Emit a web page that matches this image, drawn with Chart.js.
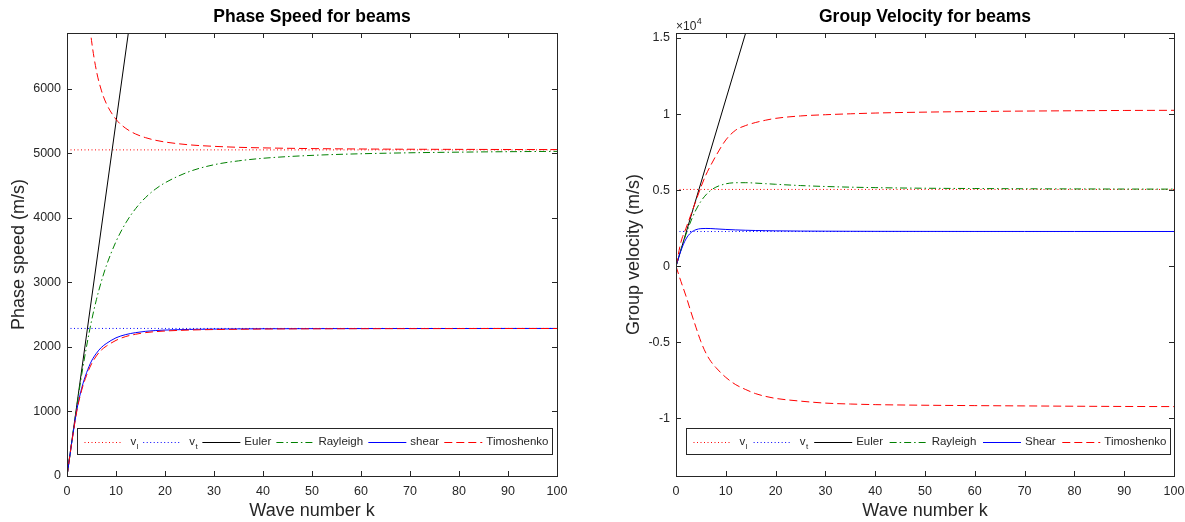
<!DOCTYPE html>
<html>
<head>
<meta charset="utf-8">
<script src="https://cdn.jsdelivr.net/npm/chart.js@4.4.1/dist/chart.umd.min.js"></script>
<style>
  html, body { margin: 0; padding: 0; background: #fff; }
  #wrap { position: relative; width: 1185px; height: 522px; }
  .panel { position: absolute; top: 0; height: 522px; }
</style>
</head>
<body>
<div id="wrap">
  <div class="panel" style="left:0;width:592px"><canvas id="phaseChart"></canvas></div>
  <div class="panel" style="left:592px;width:593px"><canvas id="groupChart"></canvas></div>
</div>
<script>
// wave numbers k
const kGrid  = [0, 1, 2, 3, 4, 5, 6, 7, 8, 10, 12, 14, 16, 18, 20, 25, 30, 35, 40, 50, 60, 70, 80, 90, 100];
const kUpper = [4, 4.5, 5, 6, 7, 8, 10, 12, 14, 16, 18, 20, 25, 30, 35, 40, 50, 60, 70, 80, 90, 100];
const kFlat  = [0, 100];
const kEuler = [0, 15];

// bulk speeds
const vlLine = [5050, 5050];
const vtLine = [2285, 2285];

// phase speed (m/s)
const phaseEuler    = [0, 8220];
const phaseRayleigh = [0, 545, 1075, 1570, 2010, 2400, 2730, 3010, 3250, 3630, 3920, 4140, 4310, 4440, 4540, 4715, 4820, 4880, 4920, 4965, 4990, 5005, 5015, 5022, 5027];
const phaseShear    = [0, 535, 1020, 1360, 1600, 1780, 1900, 1990, 2050, 2140, 2190, 2220, 2240, 2252, 2260, 2270, 2275, 2278, 2280, 2282, 2283, 2284, 2284, 2285, 2285];
const phaseTimoLow  = [0, 530, 1005, 1330, 1560, 1735, 1860, 1950, 2010, 2100, 2160, 2195, 2220, 2235, 2245, 2260, 2268, 2272, 2276, 2279, 2281, 2282, 2283, 2284, 2284];
const phaseTimoHigh = [7530, 7085, 6745, 6276, 5975, 5772, 5523, 5383, 5296, 5240, 5200, 5172, 5128, 5105, 5090, 5081, 5070, 5064, 5060, 5058, 5056, 5055];

// group velocity (m/s)
const groupEuler    = [0, 16440];
const groupRayleigh = [0, 1083, 2094, 2976, 3702, 4269, 4690, 4991, 5198, 5419, 5491, 5493, 5466, 5429, 5390, 5305, 5244, 5200, 5169, 5129, 5110, 5094, 5084, 5076, 5071];
const groupShear    = [0, 1037, 1792, 2213, 2405, 2475, 2487, 2480, 2459, 2421, 2391, 2368, 2352, 2340, 2330, 2315, 2307, 2301, 2297, 2293, 2290, 2289, 2288, 2287, 2287];
const groupTimoPos  = [0, 1600, 2500, 3400, 4300, 5200, 6000, 6650, 7250, 8300, 8950, 9250, 9450, 9600, 9720, 9880, 9960, 10020, 10070, 10130, 10170, 10200, 10220, 10240, 10250];
const groupTimoNeg  = [0, -1000, -1950, -3000, -4000, -4950, -5700, -6250, -6650, -7300, -7780, -8100, -8370, -8550, -8680, -8860, -8990, -9050, -9090, -9130, -9155, -9175, -9195, -9210, -9220];

// ticks
const xTicks          = [0, 10, 20, 30, 40, 50, 60, 70, 80, 90, 100];
const phaseTicks      = [0, 1000, 2000, 3000, 4000, 5000, 6000];
const groupTicks      = [-10000, -5000, 0, 5000, 10000, 15000];
const groupTickLabels = ['-1', '-0.5', '0', '0.5', '1', '1.5'];

const FONT = '"Liberation Sans", Arial, Helvetica, sans-serif';
const INK = '#262626';
const RED = '#ff0000', BLUE = '#0000ff', GREEN = '#008000', BLACK = '#000000';
const DOT = [1, 2.5], DASH = [8, 4], DASHDOT = [7, 3, 1.5, 3];

function series(xs, ys) {
  return xs.map((x, i) => ({ x: x, y: ys[i] }));
}

function line(label, xs, ys, color, dash, order) {
  return {
    label: label,
    data: series(xs, ys),
    borderColor: color,
    borderWidth: 1,
    borderDash: dash,
    pointRadius: 0,
    fill: false,
    cubicInterpolationMode: 'monotone',
    clip: 0,
    order: order
  };
}

// box with inward ticks on all four sides
const matlabAxes = {
  id: 'matlabAxes',
  afterDatasetsDraw(chart) {
    const ctx = chart.ctx, a = chart.chartArea;
    const xs = chart.scales.x, ys = chart.scales.y;
    ctx.save();
    ctx.strokeStyle = INK;
    ctx.lineWidth = 1;
    ctx.beginPath();
    xs.ticks.forEach(t => {
      const px = Math.round(xs.getPixelForValue(t.value)) + 0.5;
      ctx.moveTo(px, a.bottom); ctx.lineTo(px, a.bottom - 5);
      ctx.moveTo(px, a.top); ctx.lineTo(px, a.top + 5);
    });
    ys.ticks.forEach(t => {
      const py = Math.round(ys.getPixelForValue(t.value)) + 0.5;
      ctx.moveTo(a.left, py); ctx.lineTo(a.left + 5, py);
      ctx.moveTo(a.right, py); ctx.lineTo(a.right - 5, py);
    });
    ctx.stroke();
    ctx.strokeRect(Math.round(a.left) + 0.5, Math.round(a.top) + 0.5,
                   Math.round(a.right - a.left), Math.round(a.bottom - a.top));
    const exp = chart.options.plugins.matlabAxes && chart.options.plugins.matlabAxes.exponent;
    if (exp) {
      ctx.fillStyle = INK;
      ctx.font = '12px ' + FONT;
      ctx.textBaseline = 'alphabetic';
      ctx.fillText('\u00d710', a.left, a.top - 3);
      const w = ctx.measureText('\u00d710').width;
      ctx.font = '9px ' + FONT;
      ctx.fillText(exp, a.left + w + 0.5, a.top - 9);
    }
    ctx.restore();
  }
};

// horizontal legend boxed inside the plot area
const boxLegend = {
  id: 'boxLegend',
  afterDatasetsDraw(chart, args, opts) {
    const ctx = chart.ctx, a = chart.chartArea;
    const x0 = Math.round(a.left + opts.insetLeft) + 0.5;
    const x1 = Math.round(a.right - opts.insetRight) + 0.5;
    const y1 = Math.round(a.bottom - opts.insetBottom) + 0.5;
    const y0 = y1 - opts.height;
    const midY = (y0 + y1) / 2;
    const sample = 38, gap = 4;
    const mainFont = '11.5px ' + FONT, subFont = '8px ' + FONT;
    const items = chart.data.datasets.filter(d => d.label);

    ctx.save();
    ctx.fillStyle = '#ffffff';
    ctx.fillRect(x0, y0, x1 - x0, y1 - y0);
    ctx.strokeStyle = INK;
    ctx.lineWidth = 1;
    ctx.strokeRect(x0, y0, x1 - x0, y1 - y0);

    const parts = items.map(d => {
      const p = d.label.split('_');
      ctx.font = mainFont;
      let w = ctx.measureText(p[0]).width;
      if (p[1]) { ctx.font = subFont; w += ctx.measureText(p[1]).width; }
      return { main: p[0], sub: p[1], w: w, extra: p[1] ? 4 : 0 };
    });
    const used = parts.reduce((s, p) => s + sample + gap + p.extra + p.w, 0);
    const spacing = (x1 - x0 - 7 - 4 - used) / (parts.length - 1);

    let x = x0 + 7;
    items.forEach((d, i) => {
      const p = parts[i];
      ctx.strokeStyle = d.borderColor;
      ctx.lineWidth = 1;
      ctx.setLineDash(d.borderDash || []);
      ctx.beginPath();
      ctx.moveTo(x, Math.round(midY) + 0.5);
      ctx.lineTo(x + sample, Math.round(midY) + 0.5);
      ctx.stroke();
      ctx.setLineDash([]);
      let tx = x + sample + gap + p.extra;
      ctx.fillStyle = INK;
      ctx.textBaseline = 'middle';
      ctx.font = mainFont;
      ctx.fillText(p.main, tx, midY);
      if (p.sub) {
        const mw = ctx.measureText(p.main).width;
        ctx.font = subFont;
        ctx.fillText(p.sub, tx + mw + 0.5, midY + 5);
      }
      x += sample + gap + p.extra + p.w + spacing;
    });
    ctx.restore();
  }
};

function makeOptions(cfg) {
  return {
    responsive: true,
    maintainAspectRatio: false,
    animation: false,
    devicePixelRatio: 1,
    layout: { padding: { left: 0, right: cfg.padRight, top: 0, bottom: 0 } },
    plugins: {
      legend: { display: false },
      tooltip: { enabled: false },
      title: {
        display: true,
        fullSize: false,
        text: cfg.title,
        color: '#000',
        font: { family: FONT, size: 17.5, weight: 'bold', lineHeight: 1.2 },
        padding: { top: 7, bottom: 5 }
      },
      matlabAxes: { exponent: cfg.exponent },
      boxLegend: { insetLeft: 10, insetRight: cfg.legendRight, insetBottom: 22, height: 26 }
    },
    scales: {
      x: {
        type: 'linear',
        min: 0,
        max: 100,
        grid: { display: false, drawTicks: false },
        border: { display: false },
        afterBuildTicks: s => { s.ticks = xTicks.map(v => ({ value: v })); },
        afterFit: s => { s.height = 46; s.paddingLeft = 0; s.paddingRight = 0; },
        ticks: {
          autoSkip: false, maxRotation: 0, padding: 8, color: INK,
          font: { family: FONT, size: 12.5 },
          callback: v => String(v)
        },
        title: {
          display: true, text: 'Wave number k', color: INK,
          font: { family: FONT, size: 18, lineHeight: 1.2 },
          padding: { top: 0, bottom: 0 }
        }
      },
      y: {
        type: 'linear',
        min: cfg.yMin,
        max: cfg.yMax,
        grid: { display: false, drawTicks: false },
        border: { display: false },
        afterBuildTicks: s => { s.ticks = cfg.yTicks.map(v => ({ value: v })); },
        afterFit: s => { s.width = cfg.yWidth; s.paddingTop = 0; s.paddingBottom = 0; },
        ticks: {
          autoSkip: false, padding: 6, color: INK,
          font: { family: FONT, size: 12.5 },
          callback: (v, i) => cfg.yLabels[i]
        },
        title: {
          display: true, text: cfg.yTitle, color: INK,
          font: { family: FONT, size: 18, lineHeight: 1.2 },
          padding: { top: cfg.yTitlePad, bottom: 0 }
        }
      }
    }
  };
}

new Chart(document.getElementById('phaseChart'), {
  type: 'line',
  data: {
    datasets: [
      line('v_l', kFlat, vlLine, RED, DOT, 6),
      line('v_t', kFlat, vtLine, BLUE, DOT, 5),
      line('Euler', kEuler, phaseEuler, BLACK, [], 4),
      line('Rayleigh', kGrid, phaseRayleigh, GREEN, DASHDOT, 3),
      line('shear', kGrid, phaseShear, BLUE, [], 2),
      line('Timoshenko', kGrid, phaseTimoLow, RED, DASH, 1),
      line('', kUpper, phaseTimoHigh, RED, DASH, 1)
    ]
  },
  options: makeOptions({
    title: 'Phase Speed for beams',
    yTitle: 'Phase speed (m/s)',
    yMin: 0, yMax: 6860,
    yTicks: phaseTicks,
    yLabels: phaseTicks.map(String),
    yWidth: 67, yTitlePad: 8,
    padRight: 35, legendRight: 5
  }),
  plugins: [matlabAxes, boxLegend]
});

new Chart(document.getElementById('groupChart'), {
  type: 'line',
  data: {
    datasets: [
      line('v_l', kFlat, vlLine, RED, DOT, 6),
      line('v_t', kFlat, vtLine, BLUE, DOT, 5),
      line('Euler', kEuler, groupEuler, BLACK, [], 4),
      line('Rayleigh', kGrid, groupRayleigh, GREEN, DASHDOT, 3),
      line('Shear', kGrid, groupShear, BLUE, [], 2),
      line('Timoshenko', kGrid, groupTimoPos, RED, DASH, 1),
      line('', kGrid, groupTimoNeg, RED, DASH, 1)
    ]
  },
  options: makeOptions({
    title: 'Group Velocity for beams',
    yTitle: 'Group velocity (m/s)',
    yMin: -13780, yMax: 15330,
    yTicks: groupTicks,
    yLabels: groupTickLabels,
    yWidth: 84, yTitlePad: 31,
    padRight: 11, legendRight: 4,
    exponent: '4'
  }),
  plugins: [matlabAxes, boxLegend]
});
</script>
</body>
</html>
